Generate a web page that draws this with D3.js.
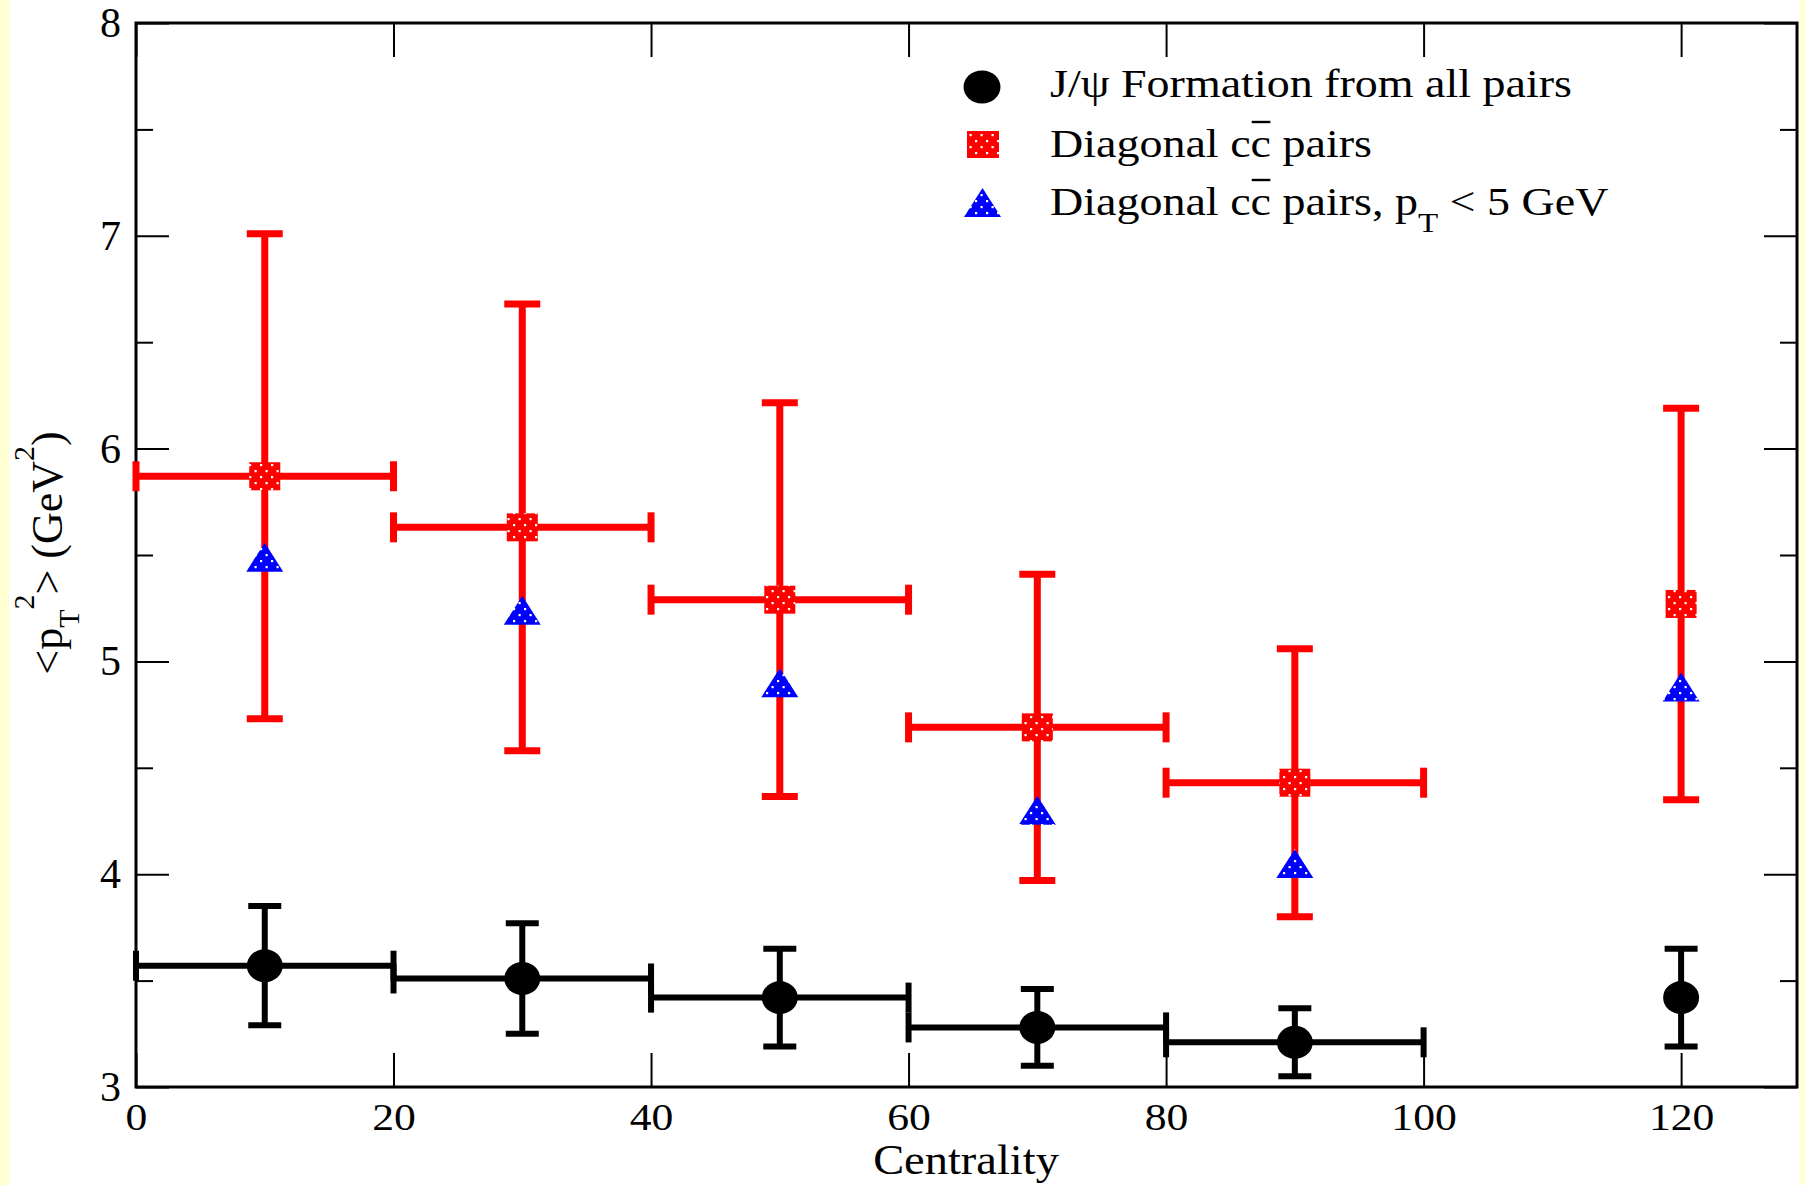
<!DOCTYPE html>
<html>
<head>
<meta charset="utf-8">
<script src="https://cdn.jsdelivr.net/npm/d3@7"></script>
<style>
  html, body { margin: 0; padding: 0; background: #ffffff; }
  svg { display: block; }
  svg text { font-family: 'Liberation Serif', 'Times New Roman', Tinos, 'DejaVu Serif', serif; }
</style>
</head>
<body>
<svg id="chart" width="1805" height="1185"></svg>
<script>
// Centrality bins (bin centres and half widths; the last point has no bin width)
const centrality = [10, 30, 50, 70, 90, 120];
const binHalfWidth = [10, 10, 10, 10, 10, 0];

// J/psi formation from all pairs: <pT^2> and its error
const jpsiMean = [3.57, 3.51, 3.42, 3.28, 3.21, 3.42];
const jpsiErr  = [0.28, 0.26, 0.23, 0.18, 0.16, 0.23];

// Diagonal c-cbar pairs: <pT^2> and its error
const diagMean = [5.87, 5.63, 5.29, 4.69, 4.43, 5.27];
const diagErr  = [1.14, 1.05, 0.925, 0.72, 0.63, 0.92];

// Diagonal c-cbar pairs with pT < 5 GeV
const diagLowPt = [5.49, 5.24, 4.90, 4.30, 4.05, 4.88];

// Axis ticks
const xTicks = [0, 20, 40, 60, 80, 100, 120];
const yTicks = [3, 4, 5, 6, 7, 8];
const yMinorTicks = [3.5, 4.5, 5.5, 6.5, 7.5];

const serif = "'Liberation Serif', 'Times New Roman', Tinos, 'DejaVu Serif', serif";

const svg = d3.select('#chart');

// page background with pale side strips
svg.append('rect').attr('x', 0).attr('y', 0).attr('width', 1805).attr('height', 1185).attr('fill', '#ffffff');
svg.append('rect').attr('x', 0).attr('y', 0).attr('width', 9).attr('height', 1185).attr('fill', '#ffffd2');
svg.append('rect').attr('x', 1800).attr('y', 0).attr('width', 5).attr('height', 1185).attr('fill', '#ffffd2');

const x = d3.scaleLinear().domain([0, 129]).range([136, 1797]);
const y = d3.scaleLinear().domain([3, 8]).range([1087, 23]);

// dotted fill patterns for the square and triangle symbols
const defs = svg.append('defs');
function dotPattern(id, color) {
  const p = defs.append('pattern').attr('id', id)
    .attr('patternUnits', 'userSpaceOnUse').attr('width', 11).attr('height', 12);
  p.append('rect').attr('width', 11).attr('height', 12).attr('fill', color);
  p.append('rect').attr('x', 1.5).attr('y', 2).attr('width', 2.2).attr('height', 2.2).attr('fill', '#fff');
  p.append('rect').attr('x', 7).attr('y', 8).attr('width', 2.2).attr('height', 2.2).attr('fill', '#fff');
}
dotPattern('dotsRed', '#ff0000');
dotPattern('dotsBlue', '#0000ff');

// ---- axes ----
function styleTicks(g, width) {
  g.attr('font-family', null);
  g.select('.domain').remove();
  g.selectAll('.tick line').attr('stroke', '#000').attr('stroke-width', width);
}

const gxb = svg.append('g').attr('transform', `translate(0,${y(3)})`)
  .call(d3.axisBottom(x).tickValues(xTicks).tickSize(-34).tickFormat(d3.format('d')));
styleTicks(gxb, 2);
gxb.selectAll('.tick text')
  .style('font-family', serif).attr('font-size', 37).attr('fill', '#000')
  .attr('y', 43).attr('dy', 0).attr('transform', 'scale(1.18,1)');

const gxt = svg.append('g').attr('transform', `translate(0,${y(8)})`)
  .call(d3.axisTop(x).tickValues(xTicks).tickSize(-34).tickFormat(''));
styleTicks(gxt, 2);
gxt.selectAll('.tick text').remove();

const gyl = svg.append('g').attr('transform', `translate(${x(0)},0)`)
  .call(d3.axisLeft(y).tickValues(yTicks).tickSize(-33).tickFormat(d3.format('d')));
styleTicks(gyl, 2);
gyl.selectAll('.tick text')
  .style('font-family', serif).attr('font-size', 42).attr('fill', '#000')
  .attr('x', -15).attr('dy', '0.32em');

const gylm = svg.append('g').attr('transform', `translate(${x(0)},0)`)
  .call(d3.axisLeft(y).tickValues(yMinorTicks).tickSize(-17).tickFormat(''));
styleTicks(gylm, 2);
gylm.selectAll('.tick text').remove();

const gyr = svg.append('g').attr('transform', `translate(${x(129)},0)`)
  .call(d3.axisRight(y).tickValues(yTicks).tickSize(-33).tickFormat(''));
styleTicks(gyr, 2);
gyr.selectAll('.tick text').remove();

const gyrm = svg.append('g').attr('transform', `translate(${x(129)},0)`)
  .call(d3.axisRight(y).tickValues(yMinorTicks).tickSize(-17).tickFormat(''));
styleTicks(gyrm, 2);
gyrm.selectAll('.tick text').remove();

// plot frame
svg.append('rect')
  .attr('x', x(0)).attr('y', y(8))
  .attr('width', x(129) - x(0)).attr('height', y(3) - y(8))
  .attr('fill', 'none').attr('stroke', '#000').attr('stroke-width', 3);

// axis titles
svg.append('g').attr('transform', 'translate(966,1174) scale(1.08,1)')
  .append('text').attr('text-anchor', 'middle')
  .style('font-family', serif).attr('font-size', 43).attr('fill', '#000')
  .text('Centrality');

const yTitle = svg.append('text')
  .attr('transform', 'translate(62,553) rotate(-90)')
  .attr('text-anchor', 'middle')
  .style('font-family', serif).attr('font-size', 44).attr('fill', '#000');
yTitle.append('tspan').text('<p');
yTitle.append('tspan').attr('font-size', 30).attr('dy', 17).text('T');
yTitle.append('tspan').attr('font-size', 30).attr('dy', -45).text('2');
yTitle.append('tspan').attr('dy', 28).text('> (GeV');
yTitle.append('tspan').attr('font-size', 30).attr('dy', -28).text('2');
yTitle.append('tspan').attr('dy', 28).text(')');

// ---- data series ----
function rowsOf(mean, err) {
  return centrality.map((c, i) => ({ c, hw: binHalfWidth[i], m: mean[i], e: err ? err[i] : 0 }));
}

function drawErrorBars(rows, color, lw, capW, capH) {
  const g = svg.append('g').attr('stroke', color).attr('stroke-width', lw).attr('fill', 'none');
  const withBin = rows.filter(d => d.hw > 0);
  // horizontal bin-width bars with end caps
  g.selectAll('line.hbar').data(withBin).join('line').attr('class', 'hbar')
    .attr('x1', d => x(d.c - d.hw)).attr('x2', d => x(d.c + d.hw))
    .attr('y1', d => y(d.m)).attr('y2', d => y(d.m));
  g.selectAll('line.hcapL').data(withBin).join('line').attr('class', 'hcapL')
    .attr('x1', d => x(d.c - d.hw)).attr('x2', d => x(d.c - d.hw))
    .attr('y1', d => y(d.m) - capH / 2).attr('y2', d => y(d.m) + capH / 2);
  g.selectAll('line.hcapR').data(withBin).join('line').attr('class', 'hcapR')
    .attr('x1', d => x(d.c + d.hw)).attr('x2', d => x(d.c + d.hw))
    .attr('y1', d => y(d.m) - capH / 2).attr('y2', d => y(d.m) + capH / 2);
  // vertical error bars with caps
  g.selectAll('line.vbar').data(rows).join('line').attr('class', 'vbar')
    .attr('x1', d => x(d.c)).attr('x2', d => x(d.c))
    .attr('y1', d => y(d.m + d.e)).attr('y2', d => y(d.m - d.e));
  g.selectAll('line.vcapT').data(rows).join('line').attr('class', 'vcapT')
    .attr('x1', d => x(d.c) - capW / 2).attr('x2', d => x(d.c) + capW / 2)
    .attr('y1', d => y(d.m + d.e)).attr('y2', d => y(d.m + d.e));
  g.selectAll('line.vcapB').data(rows).join('line').attr('class', 'vcapB')
    .attr('x1', d => x(d.c) - capW / 2).attr('x2', d => x(d.c) + capW / 2)
    .attr('y1', d => y(d.m - d.e)).attr('y2', d => y(d.m - d.e));
}

function trianglePath(cx, cy) {
  return `M${cx},${cy - 14.5}L${cx + 18.5},${cy + 14.5}L${cx - 18.5},${cy + 14.5}Z`;
}

const jpsiRows = rowsOf(jpsiMean, jpsiErr);
const diagRows = rowsOf(diagMean, diagErr);
const lowRows = rowsOf(diagLowPt, null);

drawErrorBars(jpsiRows, '#000000', 6, 33, 30);
svg.append('g').selectAll('ellipse').data(jpsiRows).join('ellipse')
  .attr('cx', d => x(d.c)).attr('cy', d => y(d.m))
  .attr('rx', 18).attr('ry', 16.5).attr('fill', '#000');

drawErrorBars(diagRows, '#ff0000', 7, 36, 30);
svg.append('g').selectAll('rect').data(diagRows).join('rect')
  .attr('x', d => x(d.c) - 15.5).attr('y', d => y(d.m) - 14)
  .attr('width', 31).attr('height', 28).attr('fill', 'url(#dotsRed)');

svg.append('g').selectAll('path').data(lowRows).join('path')
  .attr('d', d => trianglePath(x(d.c), y(d.m)))
  .attr('fill', 'url(#dotsBlue)');

// ---- legend ----
const legend = svg.append('g');
legend.append('ellipse').attr('cx', 982).attr('cy', 87).attr('rx', 18.5).attr('ry', 16.5).attr('fill', '#000');
legend.append('rect').attr('x', 967).attr('y', 131).attr('width', 32).attr('height', 27).attr('fill', 'url(#dotsRed)');
legend.append('path').attr('d', trianglePath(982.5, 202.5)).attr('fill', 'url(#dotsBlue)');

function legendLine(baseline) {
  const g = legend.append('g').attr('transform', `translate(1050,${baseline}) scale(1.18,1)`);
  const t = g.append('text').style('font-family', serif).attr('font-size', 39).attr('fill', '#000');
  return { g, t };
}

const l1 = legendLine(97);
l1.t.text('J/ψ Formation from all pairs');

// overline over the anti-charm "c"
function overline(line, charIndex) {
  const box = line.t.node().getExtentOfChar(charIndex);
  line.g.append('line')
    .attr('x1', box.x + 1).attr('x2', box.x + box.width - 0.5)
    .attr('y1', -35).attr('y2', -35)
    .attr('stroke', '#000').attr('stroke-width', 2.4);
}

const l2 = legendLine(157);
l2.t.text('Diagonal cc pairs');
overline(l2, 10);

const l3 = legendLine(215);
l3.t.append('tspan').text('Diagonal cc pairs, p');
l3.t.append('tspan').attr('font-size', 28).attr('dy', 17).text('T');
l3.t.append('tspan').attr('dy', -17).text(' < 5 GeV');
overline(l3, 10);
</script>
</body>
</html>
